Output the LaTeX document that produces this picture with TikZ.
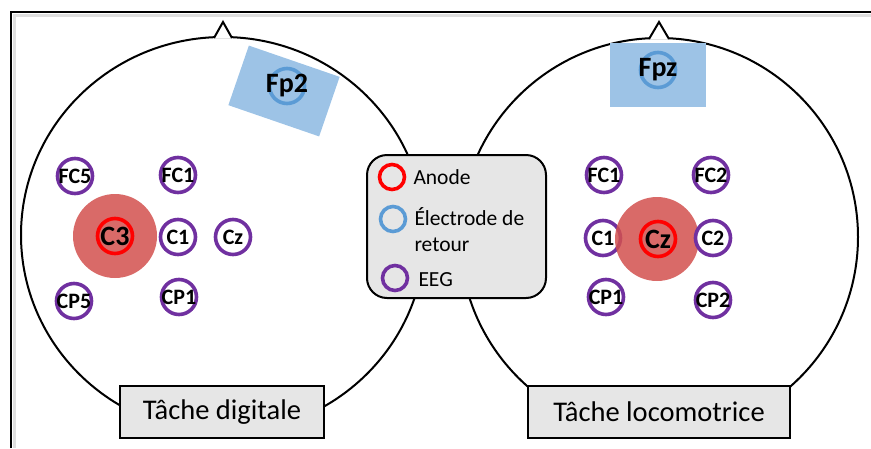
\documentclass[tikz,border=0pt]{standalone}
\usepackage{fontspec}
\setmainfont{Carlito}
\usepackage{xcolor}
\usepackage{tikz}
\usetikzlibrary{positioning}

\definecolor{eegpurple}{RGB}{112,48,160}
\definecolor{retblue}{RGB}{91,155,213}
\definecolor{retfill}{RGB}{157,195,230}
\definecolor{anodebg}{RGB}{210,80,78}
\definecolor{boxgray}{RGB}{230,230,230}
\newcommand{\lbl}[1]{\makebox[0pt]{#1}}

\begin{document}
\begin{tikzpicture}[
  x=1pt, y=-1pt,
  ring/.style={circle, line width=3.6pt, minimum size=35pt, inner sep=0pt, font=\bfseries\fontsize{22}{24}\selectfont},
  eeg/.style={ring, draw=eegpurple, fill=white},
  anode/.style={ring, draw=red, font=\bfseries\fontsize{28}{30}\selectfont},
  retour/.style={ring, draw=retblue, font=\bfseries\fontsize{28}{30}\selectfont},
  patch/.style={circle, fill=anodebg, fill opacity=0.85, minimum size=84pt, inner sep=0pt},
  sponge/.style={fill=retfill, minimum width=96pt, minimum height=63pt, inner sep=0pt},
  task/.style={draw, line width=2pt, fill=boxgray, minimum width=204pt, minimum height=52pt, inner sep=0pt, font=\fontsize{28.5}{31}\selectfont},
  key/.style={circle, line width=3.6pt, minimum size=25pt, inner sep=0pt},
  keytext/.style={inner sep=2pt, align=left, font=\fontsize{21.5}{26}\selectfont},
  head/.style={line width=2pt}
]
\useasboundingbox (0,0) rectangle (871,448);

\draw[gray!25, line width=3pt] (13,15) -- (871,15);
\draw[gray!25, line width=3pt] (14,15) -- (14,448);
\draw[line width=2pt] (11,448) -- (11,12) -- (871,12);

\draw[head] (223,235) ellipse [x radius=202, y radius=198];
\draw[head] (659,237) circle (199);
\draw[head, fill=white] (214,38) -- (223,22) -- (232,38);
\draw[head, fill=white] (649,39) -- (659,22) -- (669,39);

\node[eeg] (fc5L) at (75,176) {\lbl{FC5}};
\node[eeg] (fc1L) at (178,175) {\lbl{FC1}};
\node[patch] (padL) at (115,236) {};
\node[anode] (c3) at (115,236) {\lbl{C3}};
\node[eeg] (c1L) at (178,237) {\lbl{C1}};
\node[eeg] (czL) at (233,237) {\lbl{Cz}};
\node[eeg] (cp5L) at (74,301) {\lbl{CP5}};
\node[eeg] (cp1L) at (179,297) {\lbl{CP1}};
\node[sponge, rotate=-19] (spL) at (284,91) {};
\node[retour] (fp2) at (287,86) {\lbl{Fp2}};

\node[sponge, minimum height=64pt] (spR) at (658,75) {};
\node[retour] (fpz) at (658,70) {\lbl{Fpz}};
\node[eeg] (fc1R) at (604,175) {\lbl{FC1}};
\node[eeg] (fc2R) at (711,175) {\lbl{FC2}};
\node[eeg] (c1R) at (603,238) {\lbl{C1}};
\node[patch] (padR) at (657,239) {};
\node[anode] (czR) at (658,239) {\lbl{Cz}};
\node[eeg] (c2R) at (713,238) {\lbl{C2}};
\node[eeg] (cp1R) at (606,297) {\lbl{CP1}};
\node[eeg] (cp2R) at (713,300) {\lbl{CP2}};

\node[draw, line width=2pt, rounded corners=20pt, fill=boxgray, minimum width=179pt, minimum height=143pt] (legend) at (456.5,226.5) {};
\node[key, draw=red] (keyA) at (392,177) {};
\node[keytext, right=5pt of keyA] (txtA) {Anode};
\node[key, draw=retblue] (keyR) at (393,219) {};
\node[keytext, right=5pt of keyR, yshift=-11pt] (txtR) {Électrode de\\retour};
\node[key, draw=eegpurple] (keyE) at (395,278) {};
\node[keytext, right=7pt of keyE, yshift=-2pt] (txtE) {EEG};

\node[task] (taskL) at (222,412) {Tâche digitale};
\node[task, minimum width=262pt] (taskR) at (659,412) {Tâche locomotrice};
\end{tikzpicture}
\end{document}
